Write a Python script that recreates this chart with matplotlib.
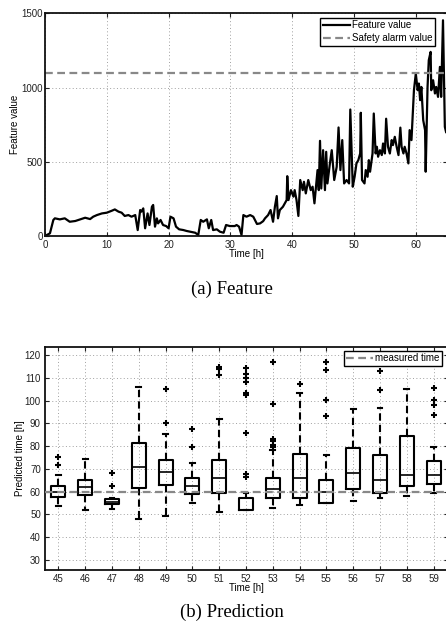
import matplotlib
matplotlib.use("Agg")
import matplotlib.pyplot as plt
from matplotlib.lines import Line2D

# ---------------- data: feature curve ----------------
feat_time = [0, 0.8, 1.35, 1.6, 2.4, 3.2, 4.0, 4.9, 5.7, 6.5, 7.3, 7.8, 8.4, 9.2, 10.0,
             10.8, 11.3, 11.9, 12.4, 12.9, 13.5, 14.0, 14.6, 15.0, 15.4, 15.6, 15.9, 16.2,
             16.6, 16.9, 17.3, 17.5, 17.8, 18.1, 18.3, 18.7, 19.1, 19.6, 20.0, 20.3, 20.8,
             21.2, 21.7, 22.4, 22.9, 23.5, 24.3, 24.8, 25.2, 25.6, 26.2, 26.5, 26.9, 27.2,
             27.8, 28.3, 28.9, 29.3, 29.9, 30.7, 31.0, 31.4, 31.8, 32.1, 32.6, 33.2, 33.7,
             34.3, 34.8, 35.3, 35.6, 36.1, 36.5, 36.9, 37.2, 37.5, 37.7, 38.0, 38.5, 39.1,
             39.2, 39.4, 39.8, 40.2, 40.4, 40.7, 41.0, 41.3, 41.7, 41.9, 42.2, 42.6, 43.0,
             43.3, 43.6, 43.9, 44.1, 44.3, 44.5, 44.7, 45.0, 45.3, 45.5, 45.7, 46.1, 46.4,
             46.8, 47.2, 47.5, 47.8, 48.1, 48.4, 48.8, 49.2, 49.4, 49.8, 50.1, 50.4, 50.7,
             51.0, 51.1, 51.3, 51.7, 51.9, 52.2, 52.4, 52.6, 53.0, 53.2, 53.5, 53.7, 53.9,
             54.2, 54.5, 54.7, 55.0, 55.2, 55.5, 55.8, 56.1, 56.3, 56.6, 56.9, 57.2, 57.5,
             57.7, 58.0, 58.2, 58.5, 58.8, 59.0, 59.3, 59.6, 59.7, 60.0, 60.3, 60.5, 60.7,
             60.9, 61.2, 61.5, 61.6, 61.9, 62.1, 62.4, 62.5, 62.8, 63.1, 63.3, 63.6, 63.9,
             64.1, 64.4, 64.7, 64.9]
feat_value = [0, 18, 108, 119, 112, 119, 96, 101, 112, 123, 114, 130, 141, 152, 157,
              170, 179, 164, 157, 135, 141, 130, 141, 40, 175, 164, 186, 52,
              152, 74, 197, 209, 63, 119, 85, 108, 74, 67, 52, 130, 119,
              63, 45, 40, 34, 29, 22, 7, 108, 96, 112, 52, 108, 40,
              45, 29, 22, 74, 67, 67, 74, 63, 7, 141, 130, 141, 130,
              81, 85, 100, 119, 141, 175, 96, 197, 269, 119, 175, 197, 242,
              403, 242, 309, 265, 309, 242, 135, 377, 309, 365, 287, 377, 309,
              332, 220, 354, 444, 309, 641, 320, 578, 309, 567, 354, 489, 578,
              377, 466, 731, 444, 646, 354, 377, 354, 852, 332, 399, 489, 511,
              556, 830, 377, 354, 444, 399, 511, 433, 556, 825, 556, 601, 534,
              578, 545, 623, 556, 790, 601, 556, 646, 612, 668, 601, 545, 730,
              601, 556, 601, 556, 489, 713, 646, 892, 982, 1094, 982, 1027, 915,
              1004, 780, 713, 433, 1004, 1184, 1240, 982, 1049, 960, 1004, 937, 1139,
              937, 1453, 735, 700]
alarm_value = 1100

# ---------------- data: prediction boxes ----------------
pred_times = [45, 46, 47, 48, 49, 50, 51, 52, 53, 54, 55, 56, 57, 58, 59]
whisk_lo = [53.5, 52.0, 52.3, 48.1, 49.1, 54.8, 51.0, 52.0, 53.0, 54.2, 54.8, 56.1, 57.0, 58.3, 59.2]
quart_1 = [57.6, 58.6, 54.5, 61.4, 62.7, 58.9, 59.5, 52.0, 57.0, 57.0, 54.8, 61.1, 59.3, 62.5, 63.4]
medians = [59.8, 62.0, 55.5, 70.6, 68.5, 62.5, 66.0, 52.0, 61.0, 66.0, 60.0, 68.4, 65.3, 67.2, 67.2]
quart_3 = [62.5, 65.3, 56.7, 81.3, 73.7, 65.8, 73.8, 57.3, 65.8, 76.6, 65.2, 79.1, 76.1, 84.3, 73.5]
whisk_hi = [67.1, 74.5, 57.3, 105.8, 85.5, 72.5, 91.9, 59.5, 78.2, 103.5, 76.3, 96.3, 96.9, 105.2, 79.6]
outliers = [
    [71.8, 75.3],
    [],
    [62.5, 68.4],
    [],
    [90.0, 105.2],
    [79.5, 87.5],
    [111.4, 113.9, 114.9],
    [66.3, 67.8, 85.8, 102.6, 103.2, 108.2, 110.0, 111.8, 114.2],
    [79.5, 80.5, 82.2, 83.0, 98.5, 117.0],
    [107.4],
    [93.2, 100.1, 113.3, 116.7],
    [],
    [104.5, 113.1],
    [],
    [93.8, 98.2, 100.1, 105.5],
]
measured_time = 60

# ---------------- figure ----------------
W, H = 446, 631
fig = plt.figure(figsize=(W / 100, H / 100), dpi=100)
sans = ['Liberation Sans', 'DejaVu Sans']
serif = ['Liberation Serif', 'DejaVu Serif']
plt.rcParams['font.family'] = sans

def px_axes(left, top, right, bottom):
    return fig.add_axes([left / W, 1 - bottom / H, (right - left) / W, (bottom - top) / H])

def style(ax):
    ax.tick_params(direction='in', top=True, right=True, length=3, width=0.8,
                   labelsize=7, colors='#222222')
    for s in ax.spines.values():
        s.set_linewidth(1.3)
        s.set_color('#111111')
    ax.grid(True, linestyle=(0, (1, 2.5)), color='#a0a0a0', linewidth=0.7)
    ax.set_axisbelow(True)

# ---- top: feature ----
ax1 = px_axes(45, 13.3, 447, 236)
ax1.plot(feat_time, feat_value, color='black', lw=1.6, label='Feature value')
ax1.axhline(alarm_value, color='#888888', lw=1.6, ls=(0, (3.5, 2)), label='Safety alarm value')
ax1.set_xlim(0, (447 - 45) / 6.18)
ax1.set_ylim(0, 1500)
ax1.set_xticks(range(0, 70, 10))
ax1.set_yticks([0, 500, 1000, 1500])
style(ax1)
ax1.tick_params(axis='y', pad=1.5)
ax1.tick_params(axis='x', pad=3)
ax1.set_xlabel('Time [h]', fontsize=7)
ax1.set_ylabel('Feature value', fontsize=7)
ax1.xaxis.set_label_coords(0.5, -0.058)
ax1.yaxis.set_label_coords(-0.062, 0.5)
leg1 = ax1.legend(loc='upper right', bbox_to_anchor=(435 / W, 1 - 18 / H),
                  bbox_transform=fig.transFigure, borderaxespad=0, fontsize=7,
                  fancybox=False, framealpha=1, edgecolor='black', handlelength=2.8,
                  handletextpad=0.2, borderpad=0.25, labelspacing=0.3)
leg1.get_frame().set_linewidth(1.0)

fig.text(232 / W, 1 - 289 / H, '(a) Feature', ha='center', va='center',
         family=serif, fontsize=13.5)

# ---- bottom: prediction ----
ax2 = px_axes(45, 347, 447.5, 570)
stats = []
for i in range(len(pred_times)):
    stats.append(dict(whislo=whisk_lo[i], q1=quart_1[i], med=medians[i],
                      q3=quart_3[i], whishi=whisk_hi[i], fliers=outliers[i],
                      label=str(pred_times[i])))
ax2.bxp(stats, positions=pred_times, widths=0.52, capwidths=0.18, showfliers=True,
        boxprops=dict(color='black', lw=1.5),
        medianprops=dict(color='black', lw=1.2),
        whiskerprops=dict(color='black', lw=1.5, ls=(0, (3.5, 2))),
        capprops=dict(color='black', lw=1.5),
        flierprops=dict(marker='+', markeredgecolor='black', markersize=4.5,
                        markeredgewidth=1.5, linestyle='none'))
ax2.axhline(measured_time, color='#888888', lw=1.6, ls=(0, (3.5, 2)), zorder=3)
ax2.set_xlim(44.5, 44.5 + (447.5 - 45) / 26.8)
ax2.set_ylim(25.6, 123.5)
ax2.set_xticks(pred_times)
ax2.set_xticklabels([str(t) for t in pred_times])
ax2.set_yticks(range(30, 130, 10))
style(ax2)
ax2.tick_params(axis='y', pad=3)
ax2.tick_params(axis='x', pad=3)
ax2.set_xlabel('Time [h]', fontsize=7)
ax2.set_ylabel('Predicted time [h]', fontsize=7)
ax2.xaxis.set_label_coords(0.5, -0.058)
ax2.yaxis.set_label_coords(-0.05, 0.5)
handle = Line2D([], [], color='#888888', lw=1.6, ls=(0, (3.5, 2)))
leg2 = ax2.legend([handle], ['measured time'], loc='upper right',
                  bbox_to_anchor=(442 / W, 1 - 351 / H), bbox_transform=fig.transFigure,
                  borderaxespad=0, fontsize=7, fancybox=False, framealpha=1,
                  edgecolor='black', handlelength=2.8, handletextpad=0.2, borderpad=0.25)
leg2.get_frame().set_linewidth(1.0)

fig.text(232 / W, 1 - 612 / H, '(b) Prediction', ha='center', va='center',
         family=serif, fontsize=13.5)

fig.savefig('out.png', dpi=100)
